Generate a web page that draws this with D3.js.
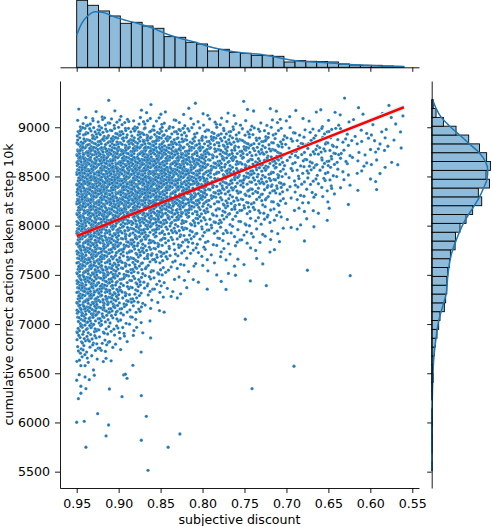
<!DOCTYPE html>
<html>
<head>
<meta charset="utf-8">
<script src="https://cdn.jsdelivr.net/npm/d3@7"></script>
<style>
  body { margin: 0; background: #fff; }
  svg { display: block; font-family: "DejaVu Sans", sans-serif; }
</style>
</head>
<body>
<div id="chart"></div>
<script>
// --- data ---

// top marginal: 30 bins of subjective discount, ascending from 0.56
const xBinStart = 0.56;
const xBinWidth = 0.013;
const xBinCounts = [6, 8, 12, 12, 14, 20, 32, 34, 36, 40, 32, 66, 72, 72, 84,
  90, 108, 98, 140, 150, 180, 184, 234, 248, 270, 264, 308, 338, 372, 402];
const topKdeX = [0.560, 0.573, 0.589, 0.604, 0.620, 0.636, 0.652, 0.668, 0.684, 0.700,
  0.716, 0.732, 0.747, 0.763, 0.779, 0.795, 0.811, 0.827, 0.843, 0.859,
  0.875, 0.890, 0.906, 0.918, 0.928, 0.937, 0.944, 0.950];
const topKdeCount = [4, 6, 8, 12, 16, 22, 28, 32, 36, 48, 64, 78, 84, 94, 108, 128,
  154, 174, 200, 234, 260, 280, 304, 328, 334, 308, 264, 194];

// right marginal: 42 bins of correct actions, ascending from 5510
const yBinStart = 5510;
const yBinWidth = 89.76;
const yBinCounts = [1, 0, 2, 2, 1, 3, 2, 0, 4, 4, 8, 5, 9, 14, 20, 28, 37, 44, 67, 74,
  80, 80, 85, 94, 99, 124, 126, 150, 182, 217, 265, 247, 306, 288, 311, 291, 253,
  196, 129, 62, 23, 8];
const sideKdeY = [5510, 5800, 6127, 6313, 6500, 6673, 6856, 7033, 7206, 7303, 7484,
  7646, 7756, 7848, 7936, 8024, 8116, 8203, 8292, 8380, 8472, 8563, 8650, 8739,
  8831, 8922, 9013, 9105, 9193, 9280];
const sideKdeCount = [1, 1, 2, 4, 7, 12, 23, 37, 62, 76, 85, 97, 111, 129, 147, 168,
  196, 226, 253, 274, 293, 297, 285, 253, 200, 147, 94, 49, 23, 5];

// scatter density: one string per discount column (0.95 going down by 0.013),
// one base-36 digit per 100-action row (9300 going down to 6600)
const gridX0 = 0.95;
const gridDX = 0.013;
const gridY0 = 9300;
const gridDY = 100;
const densityCols = [
  '015aejlmnlnkiiihhhgggfcb975',
  '0159diklmlmkiihhggfggfb9753',
  '1159diklmkljhggfeededc87542',
  '0159diklmkligfedccbcba65321',
  '0148chjkljkhecba98887643210',
  '0149dilmmklifdba98876532110',
  '1149ejlmnllifb9976543211100',
  '0149ejlmnllheb9865432100000',
  '0137bgikjhhda86543221100000',
  '0137bgjjjhhda86532211000000',
  '11259eghhffb865422110000000',
  '01259ffggeea754321110000000',
  '01369aaaa876543211100000000',
  '0136abbbb987543221110000000',
  '01258999a876433211100000000',
  '112589999765432110000000000',
  '012478888654322110000000000',
  '012478888654322110000000000',
  '012478878653221100000000000',
  '011344433221110000000000000',
  '011355544332111000000000000',
  '011345544321110000000000000',
  '011455543211100000000000000',
  '011455543210000000000000000',
  '112333321110000000000000000',
  '011222211100000000000000000',
  '011222211000000000000000000',
  '001222211100000000000000000',
  '111121110000000000000000000',
  '011111100000000000000000000'
];
// where each dot of a cell sits inside it (fractions of the cell)
const jitterX = [.50, .25, .75, .13, .63, .38, .88, .06, .56, .31, .81, .19, .69, .44, .94, .03,
  .53, .28, .78, .16, .66, .41, .91, .09, .59, .34, .84, .22, .72, .47, .97, .02];
const jitterY = [.33, .67, .11, .44, .78, .22, .56, .89, .04, .37, .70, .15, .48, .81, .26, .59,
  .93, .07, .41, .74, .19, .52, .85, .30, .63, .96, .01, .35, .68, .12, .46, .79];

// single points in the sparse lower and right part
const sparsePoints = [
  [0.945, 6577], [0.940, 6577], [0.929, 6480], [0.947, 6486], [0.940, 6462], [0.935, 6435],
  [0.950, 6429], [0.894, 6483], [0.892, 6490], [0.890, 6449], [0.945, 6368], [0.939, 6343],
  [0.911, 6340], [0.945, 6297], [0.948, 6242], [0.896, 6262], [0.873, 6272], [0.925, 6089],
  [0.867, 6062], [0.950, 6002], [0.941, 6012], [0.912, 5974], [0.827, 5883], [0.915, 5863],
  [0.873, 5819], [0.939, 5748], [0.841, 5748], [0.865, 5514], [0.883, 6581], [0.930, 6533],
  [0.691, 6571], [0.741, 6343], [0.749, 7049], [0.743, 7438], [0.724, 7390], [0.624, 7492],
  [0.675, 7547], [0.649, 8177]
];

// regression fit and its confidence band
const regX = [0.95, 0.56];
const regY = [7895, 9203];
const ciX = [0.95, 0.85, 0.75, 0.65, 0.56];
const ciLo = [7881, 8221, 8556, 8881, 9171];
const ciHi = [7909, 8239, 8576, 8921, 9235];

const xTicks = [0.95, 0.90, 0.85, 0.80, 0.75, 0.70, 0.65, 0.60, 0.55];
const yTicks = [5500, 6000, 6500, 7000, 7500, 8000, 8500, 9000];

// --- drawing ---
const blue = '#1f77b4';
const barFill = '#8fbbda';

const svg = d3.select('#chart').append('svg')
  .attr('width', 492)
  .attr('height', 526);

const x = d3.scaleLinear().domain([0.9699, 0.5420]).range([60, 419]);
const y = d3.scaleLinear().domain([5334, 9470]).range([488, 81]);
const topCount = d3.scaleLinear().domain([0, 420]).range([67.3, -2.7]);
const sideCount = d3.scaleLinear().domain([0, 330]).range([431.7, 494]);

const styleAxis = g => {
  g.attr('font-family', '"DejaVu Sans", sans-serif').attr('font-size', 12.6);
  g.select('.domain').attr('stroke', '#000').attr('stroke-width', 0.9);
  g.selectAll('.tick line').attr('stroke', '#000').attr('stroke-width', 0.9);
  g.selectAll('.tick text').attr('fill', '#000');
};

// scatter
const points = [];
densityCols.forEach((col, c) => {
  [...col].forEach((ch, r) => {
    const n = parseInt(ch, 36);
    for (let k = 0; k < n; k++) {
      const j = (k + c * 7 + r * 11) % jitterX.length;
      points.push([gridX0 - (c + jitterX[j]) * gridDX, gridY0 - (r + jitterY[j]) * gridDY]);
    }
  });
});
sparsePoints.forEach(p => points.push(p));

svg.append('g')
  .selectAll('circle')
  .data(points)
  .join('circle')
  .attr('cx', d => x(d[0]))
  .attr('cy', d => y(d[1]))
  .attr('r', 1.65)
  .attr('fill', blue)
  .attr('stroke', '#fff')
  .attr('stroke-width', 0.2);

// confidence band + regression line
svg.append('path')
  .datum(ciX.map((v, i) => [v, ciLo[i], ciHi[i]]))
  .attr('fill', '#d5f5f8')
  .attr('d', d3.area().x(d => x(d[0])).y0(d => y(d[1])).y1(d => y(d[2])));

svg.append('path')
  .datum(regX.map((v, i) => [v, regY[i]]))
  .attr('fill', 'none')
  .attr('stroke', 'red')
  .attr('stroke-width', 2.5)
  .attr('d', d3.line().x(d => x(d[0])).y(d => y(d[1])));

// main axes
svg.append('g')
  .attr('transform', 'translate(0,488)')
  .call(d3.axisBottom(x).tickValues(xTicks).tickFormat(d3.format('.2f'))
    .tickSize(5).tickPadding(6).tickSizeOuter(0))
  .call(styleAxis);

svg.append('g')
  .attr('transform', 'translate(60,0)')
  .call(d3.axisLeft(y).tickValues(yTicks).tickFormat(d3.format('d'))
    .tickSize(5).tickPadding(5).tickSizeOuter(0))
  .call(styleAxis);

svg.append('text')
  .attr('x', 239.5)
  .attr('y', 523.5)
  .attr('text-anchor', 'middle')
  .attr('font-size', 12.6)
  .text('subjective discount');

svg.append('text')
  .attr('transform', 'translate(12.5,284.5) rotate(-90)')
  .attr('text-anchor', 'middle')
  .attr('font-size', 12.6)
  .text('cumulative correct actions taken at step 10k');

// top marginal histogram
svg.append('g')
  .selectAll('rect')
  .data(xBinCounts)
  .join('rect')
  .attr('x', (d, i) => x(xBinStart + (i + 1) * xBinWidth))
  .attr('width', (d, i) => x(xBinStart + i * xBinWidth) - x(xBinStart + (i + 1) * xBinWidth))
  .attr('y', d => topCount(d))
  .attr('height', d => topCount(0) - topCount(d))
  .attr('fill', barFill)
  .attr('stroke', '#000')
  .attr('stroke-width', 0.9);

svg.append('path')
  .datum(topKdeX.map((v, i) => [v, topKdeCount[i]]))
  .attr('fill', 'none')
  .attr('stroke', blue)
  .attr('stroke-width', 1.5)
  .attr('d', d3.line().x(d => x(d[0])).y(d => topCount(d[1])).curve(d3.curveMonotoneX));

svg.append('g')
  .attr('transform', 'translate(0,67.3)')
  .call(d3.axisBottom(x).tickValues(xTicks).tickFormat('').tickSize(4.5).tickSizeOuter(0))
  .call(styleAxis);

// right marginal histogram
svg.append('g')
  .selectAll('rect')
  .data(yBinCounts.map((v, i) => [i, v]).filter(d => d[1] > 0))
  .join('rect')
  .attr('x', sideCount(0))
  .attr('width', d => sideCount(d[1]) - sideCount(0))
  .attr('y', d => y(yBinStart + (d[0] + 1) * yBinWidth))
  .attr('height', d => y(yBinStart + d[0] * yBinWidth) - y(yBinStart + (d[0] + 1) * yBinWidth))
  .attr('fill', barFill)
  .attr('stroke', '#000')
  .attr('stroke-width', 0.9);

svg.append('path')
  .datum(sideKdeY.map((v, i) => [v, sideKdeCount[i]]))
  .attr('fill', 'none')
  .attr('stroke', blue)
  .attr('stroke-width', 1.5)
  .attr('d', d3.line().x(d => sideCount(d[1])).y(d => y(d[0])).curve(d3.curveMonotoneY));

svg.append('g')
  .attr('transform', 'translate(431.7,0)')
  .call(d3.axisLeft(y).tickValues(yTicks).tickFormat('').tickSize(4.5).tickSizeOuter(0))
  .call(styleAxis);
</script>
</body>
</html>
